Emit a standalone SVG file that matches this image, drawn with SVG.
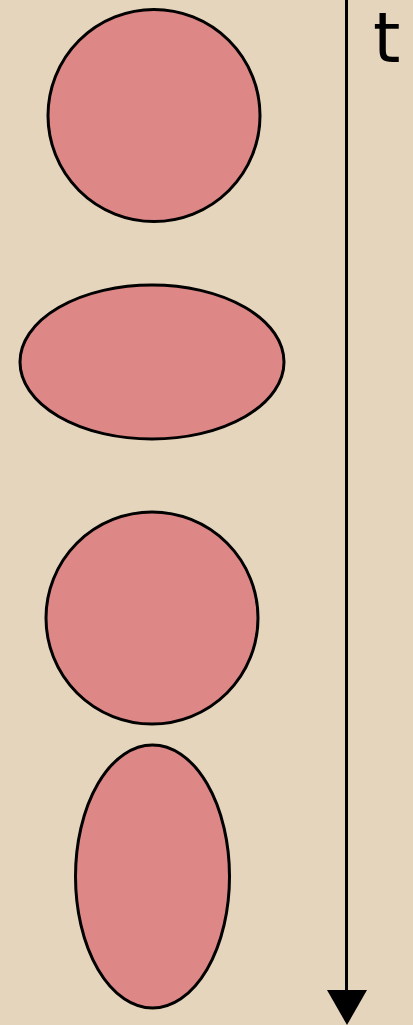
<svg xmlns="http://www.w3.org/2000/svg" width="413" height="1025" viewBox="0 0 413 1025">
<style>
.shape{fill:#dd8787;stroke:#000;stroke-width:3}
.lbl{font-family:"DejaVu Sans",sans-serif;font-size:70px;fill:#000}
</style>
<rect x="0" y="0" width="413" height="1025" fill="#e5d5bc"/>
<g id="connectors">
<line x1="346.5" y1="0" x2="346.5" y2="995" stroke="#000" stroke-width="3"/>
<polygon points="327,990 367,990 347,1025" fill="#000"/>
</g>
<g id="label-t"><text class="lbl" x="373" y="62">t</text></g>
<g id="shape1"><circle class="shape" cx="154" cy="115.5" r="106"/></g>
<g id="shape2"><ellipse class="shape" cx="152" cy="362" rx="132" ry="77"/></g>
<g id="shape3"><circle class="shape" cx="152" cy="618" r="106"/></g>
<g id="shape4"><ellipse class="shape" cx="152.5" cy="876.5" rx="77" ry="131.5"/></g>
</svg>
